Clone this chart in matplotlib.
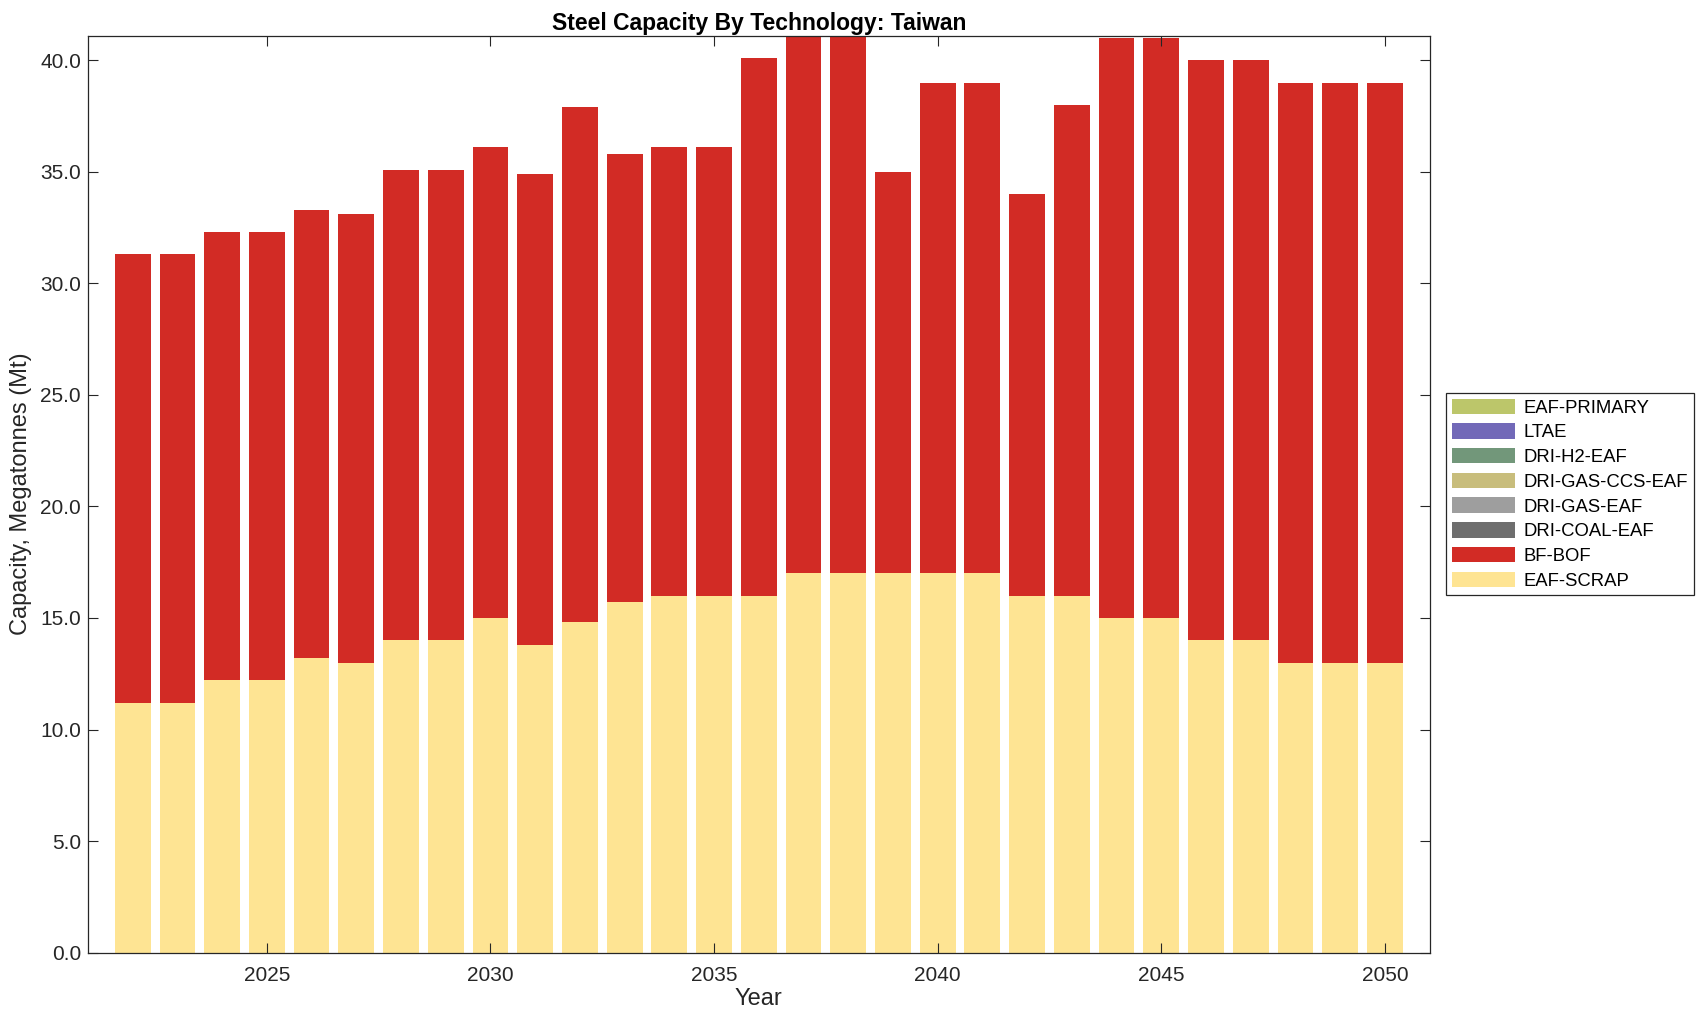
import matplotlib
matplotlib.use('Agg')
import matplotlib.pyplot as plt
import numpy as np

plt.rcParams['font.family'] = ['Liberation Sans', 'DejaVu Sans']

# years on the x axis
years = list(range(2022, 2051))

# capacity by technology, Mt
eaf_scrap = [11.2, 11.2, 12.2, 12.2, 13.2, 13.0, 14.0, 14.0, 15.0, 13.8,
             14.8, 15.7, 16.0, 16.0, 16.0, 17.0, 17.0, 17.0, 17.0, 17.0,
             16.0, 16.0, 15.0, 15.0, 14.0, 14.0, 13.0, 13.0, 13.0]
bf_bof = [20.1, 20.1, 20.1, 20.1, 20.1, 20.1, 21.1, 21.1, 21.1, 21.1,
          23.1, 20.1, 20.1, 20.1, 24.1, 25.0, 25.0, 18.0, 22.0, 22.0,
          18.0, 22.0, 26.0, 26.0, 26.0, 26.0, 26.0, 26.0, 26.0]
zeros = [0.0] * len(years)
dri_coal_eaf = zeros
dri_gas_eaf = zeros
dri_gas_ccs_eaf = zeros
dri_h2_eaf = zeros
ltae = zeros
eaf_primary = zeros

# stacking order, bottom to top
techs = ['EAF-SCRAP', 'BF-BOF', 'DRI-COAL-EAF', 'DRI-GAS-EAF',
         'DRI-GAS-CCS-EAF', 'DRI-H2-EAF', 'LTAE', 'EAF-PRIMARY']
series = [eaf_scrap, bf_bof, dri_coal_eaf, dri_gas_eaf,
          dri_gas_ccs_eaf, dri_h2_eaf, ltae, eaf_primary]
colors = ['#fee493', '#d22b25', '#6e6e6e', '#9e9e9e',
          '#c8bd7c', '#72977a', '#7269b8', '#bcc66a']

fig = plt.figure(figsize=(17.08, 10.21), dpi=100)
ax = fig.add_axes([0.0515, 0.067, 0.7855, 0.898])

bottom = np.zeros(len(years))
handles = []
for name, vals, col in zip(techs, series, colors):
    vals = np.array(vals)
    h = ax.bar(years, vals, width=0.8, bottom=bottom, color=col,
               linewidth=0, label=name)
    handles.append(h)
    bottom += vals

ax.set_xlim(2021, 2051)
ax.set_ylim(0, 41.1)
ax.set_xticks([2025, 2030, 2035, 2040, 2045, 2050])
ax.set_yticks(np.arange(0, 41, 5))
ax.yaxis.set_major_formatter(matplotlib.ticker.FormatStrFormatter('%.1f'))
ax.tick_params(direction='in', length=7, width=0.8, labelsize=15,
               top=True, right=True, colors='#262626', labelcolor='#262626')
ax.tick_params(axis='x', pad=10)
ax.tick_params(axis='y', pad=5)
for s in ax.spines.values():
    s.set_linewidth(0.9)
    s.set_color('#262626')

ax.set_xlabel('Year', fontsize=17, color='#262626', labelpad=2)
ax.set_ylabel('Capacity, Megatonnes (Mt)', fontsize=17, color='#262626',
              labelpad=6)
ax.set_title('Steel Capacity By Technology: Taiwan', fontsize=16.5,
             fontweight='bold', pad=4)

leg = ax.legend(handles[::-1], techs[::-1], loc='center left',
                bbox_to_anchor=(1.0125, 0.5), borderaxespad=0,
                fontsize=13.3, fancybox=False,
                edgecolor='#262626', framealpha=1, handlelength=3.4,
                handleheight=0.9, labelspacing=0.36, borderpad=0.3,
                handletextpad=0.5)
leg.get_frame().set_linewidth(0.9)

plt.savefig('out.png', dpi=100)
